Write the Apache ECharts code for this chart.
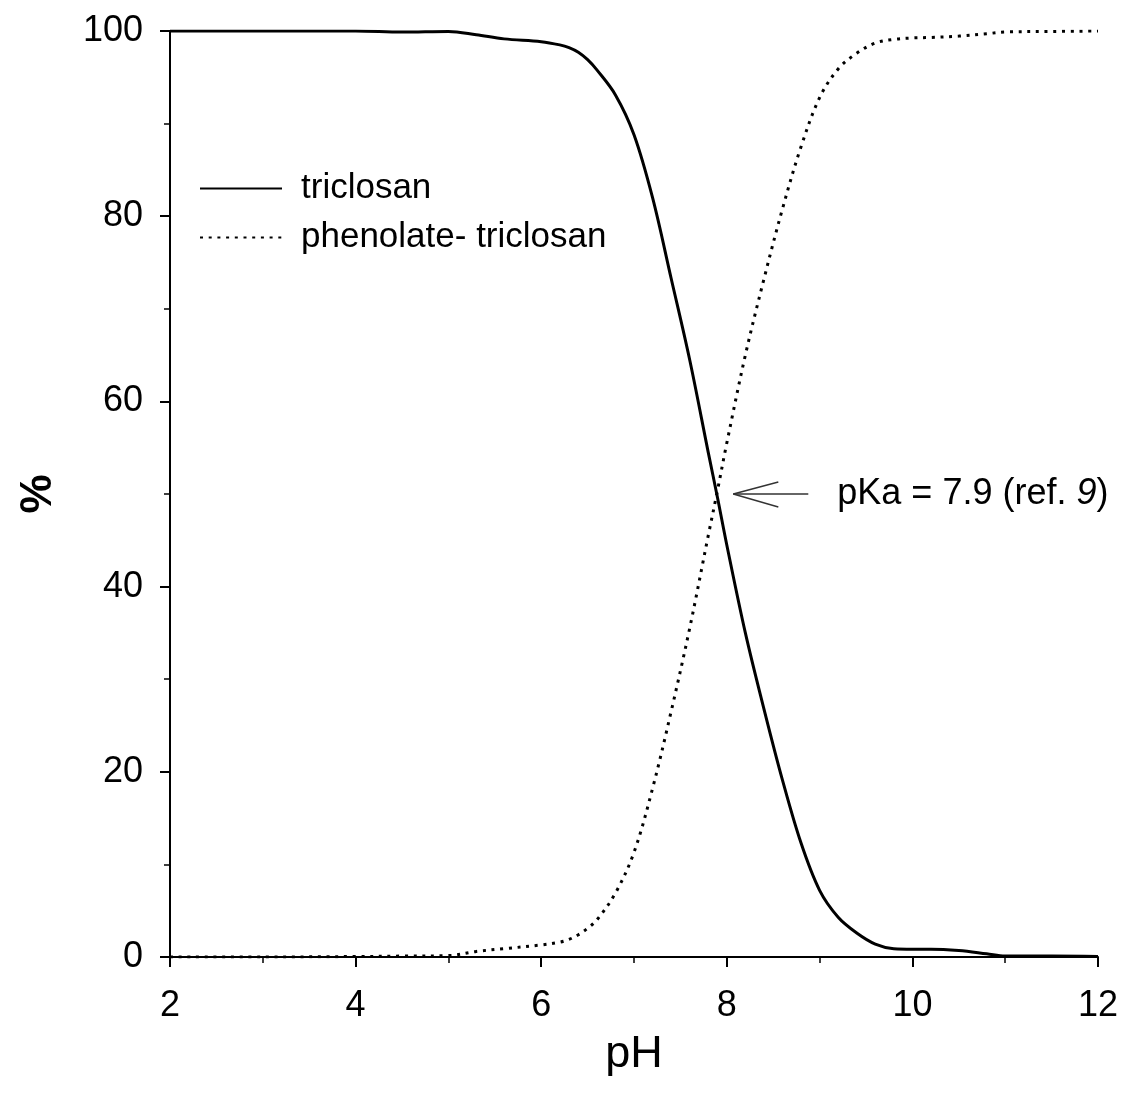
<!DOCTYPE html>
<html>
<head>
<meta charset="utf-8">
<script src="https://cdn.jsdelivr.net/npm/echarts@6/dist/echarts.min.js"></script>
<style>
html,body{margin:0;padding:0;background:#fff;}
#chart{width:1122px;height:1101px;}
</style>
</head>
<body>
<div id="chart"></div>
<script>
// pH values (x)
const pH = [2, 3, 4, 4.5, 5, 5.3, 5.6, 6.0, 6.2, 6.3, 6.4, 6.5, 6.6, 6.8, 7.0, 7.2, 7.4, 7.6, 7.8, 7.9, 8.0, 8.2, 8.4, 8.6, 8.8, 9.0, 9.2, 9.4, 9.6, 9.8, 10.0, 10.2, 10.5, 10.8, 11.0, 11.5, 12];
// % triclosan (neutral form)
const triclosan = [100, 100, 100, 99.88, 99.95, 99.6, 99.15, 98.85, 98.5, 98.2, 97.7, 96.9, 95.8, 93.1, 88.8, 82.0, 73.3, 64.5, 54.5, 49.6, 44.5, 35.0, 26.8, 19.1, 12.3, 7.2, 4.3, 2.6, 1.4, 0.9, 0.85, 0.85, 0.7, 0.35, 0.1, 0.1, 0.05];
// % phenolate-triclosan
const phenolate = [0, 0, 0.05, 0.1, 0.15, 0.6, 0.9, 1.3, 1.6, 1.9, 2.4, 3.1, 4.0, 6.9, 11.3, 18.2, 26.5, 35.5, 45.5, 50.4, 55.5, 65.0, 73.2, 80.8, 87.5, 92.8, 95.9, 97.6, 98.7, 99.1, 99.25, 99.3, 99.45, 99.7, 99.9, 99.95, 100];
const seriesNames = ['triclosan', 'phenolate- triclosan'];
const xTicks = {min: 2, max: 12, interval: 2};
const yTicks = {min: 0, max: 100, interval: 20};
const pKa = 7.9;
const arrowTip = [8.07, 50];
const annotationText = 'pKa = 7.9 (ref. {i|9})';

const FONT = '"Liberation Sans", Arial, sans-serif';
const chart = echarts.init(document.getElementById('chart'), null, {renderer: 'canvas'});

const toPairs = (xs, ys) => xs.map((x, i) => [x, ys[i]]);

chart.setOption({
  animation: false,
  backgroundColor: '#ffffff',
  grid: {left: 170, top: 31, right: 24, bottom: 144, containLabel: false},
  legend: {
    orient: 'vertical',
    left: 194,
    top: 166,
    itemWidth: 82,
    itemHeight: 14,
    itemGap: 14,
    data: seriesNames,
    itemStyle: {opacity: 0, color: 'rgba(0,0,0,0)', borderWidth: 0},
    textStyle: {fontSize: 35, fontFamily: FONT, color: '#000', padding: [0, 0, 0, 14]},
    selectedMode: false
  },
  xAxis: {
    type: 'value',
    min: xTicks.min, max: xTicks.max, interval: xTicks.interval,
    name: 'pH',
    nameLocation: 'middle',
    nameGap: 75,
    nameTextStyle: {fontSize: 45, fontFamily: FONT, color: '#000'},
    axisLine: {show: true, onZero: false, lineStyle: {color: '#000', width: 2}},
    axisTick: {show: true, length: 10, lineStyle: {color: '#000', width: 2}},
    minorTick: {show: true, splitNumber: 2, length: 6, lineStyle: {color: '#000', width: 1.5}},
    splitLine: {show: false},
    axisLabel: {fontSize: 36, fontFamily: FONT, color: '#000', margin: 31}
  },
  yAxis: {
    type: 'value',
    min: yTicks.min, max: yTicks.max, interval: yTicks.interval,
    name: '%',
    nameLocation: 'middle',
    nameGap: 109,
    nameRotate: 90,
    nameTextStyle: {fontSize: 44, fontWeight: 'bold', fontFamily: FONT, color: '#000'},
    axisLine: {show: true, onZero: false, lineStyle: {color: '#000', width: 2}},
    axisTick: {show: true, length: 10, lineStyle: {color: '#000', width: 2}},
    minorTick: {show: true, splitNumber: 2, length: 6, lineStyle: {color: '#000', width: 1.5}},
    splitLine: {show: false},
    axisLabel: {fontSize: 36, fontFamily: FONT, color: '#000', margin: 27}
  },
  series: [
    {
      name: seriesNames[0],
      type: 'line',
      data: toPairs(pH, triclosan),
      symbol: 'none',
      smooth: 0.35,
      lineStyle: {color: '#000', width: 3, type: 'solid'},
      itemStyle: {color: '#000'}
    },
    {
      name: seriesNames[1],
      type: 'line',
      data: toPairs(pH, phenolate),
      symbol: 'none',
      smooth: 0.35,
      lineStyle: {color: '#000', width: 3, type: [3, 5.7]},
      itemStyle: {color: '#000'}
    },
    {
      type: 'custom',
      name: 'annotation',
      silent: true,
      data: [arrowTip],
      renderItem: function (params, api) {
        const tip = api.coord([api.value(0), api.value(1)]);
        const stroke = {stroke: '#333', lineWidth: 1.4};
        return {
          type: 'group',
          children: [
            {type: 'line', shape: {x1: tip[0], y1: tip[1], x2: tip[0] + 75, y2: tip[1]}, style: stroke},
            {type: 'line', shape: {x1: tip[0], y1: tip[1], x2: tip[0] + 45, y2: tip[1] - 12}, style: stroke},
            {type: 'line', shape: {x1: tip[0], y1: tip[1], x2: tip[0] + 45, y2: tip[1] + 13}, style: stroke},
            {
              type: 'text',
              x: tip[0] + 104,
              y: tip[1],
              style: {
                text: annotationText,
                fontSize: 36,
                fontFamily: FONT,
                fill: '#000',
                verticalAlign: 'middle',
                align: 'left',
                rich: {i: {fontStyle: 'italic', fontSize: 36, fontFamily: FONT, fill: '#000'}}
              }
            }
          ]
        };
      }
    }
  ]
});
</script>
</body>
</html>
